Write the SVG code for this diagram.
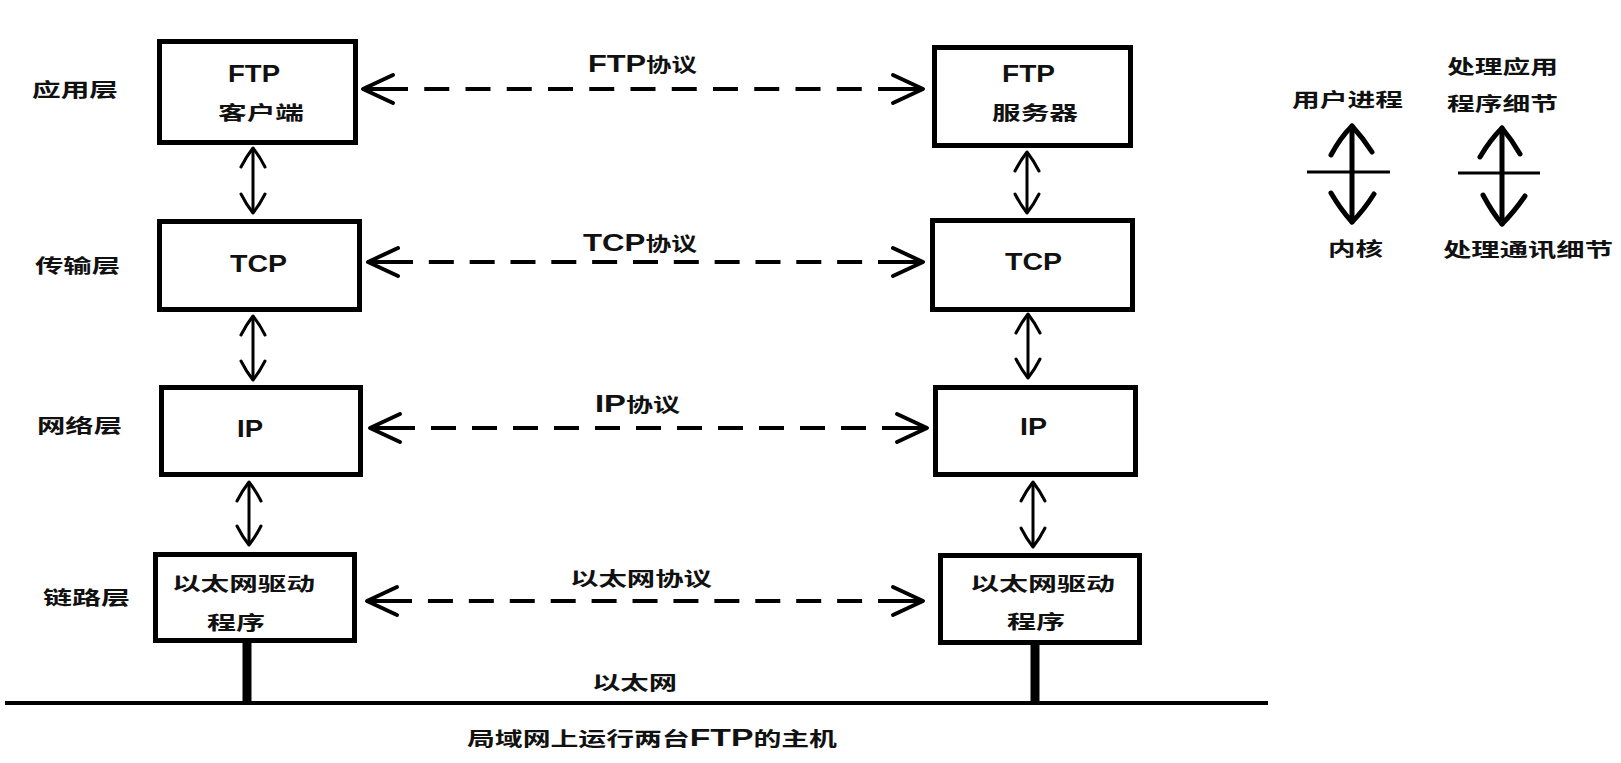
<svg xmlns="http://www.w3.org/2000/svg" width="1621" height="763" viewBox="0 0 1621 763">
<style>
text{font-family:"Liberation Sans","Noto Sans CJK SC",sans-serif;font-weight:bold;font-size:19px;fill:#111}
.lat{font-size:23px}
.box{fill:#fff;stroke:#000;stroke-width:5}
.shaft{fill:none;stroke:#000;stroke-width:4;marker-start:url(#oa);marker-end:url(#oa)}
.dash{fill:none;stroke:#000;stroke-width:4}
.v{fill:none;stroke:#000;stroke-width:3;marker-start:url(#va);marker-end:url(#va)}
.stem{stroke:#000;stroke-width:9}
.lg{fill:none;stroke:#000;stroke-width:5;stroke-linejoin:round;stroke-linecap:round}
.lh{stroke:#000;stroke-width:3}
</style>
<defs>
<marker id="oa" viewBox="-34 -17 37 34" refX="0" refY="0" markerWidth="37" markerHeight="34" markerUnits="userSpaceOnUse" orient="auto-start-reverse">
<path d="M-30 -14 L0 0 L-30 14" fill="none" stroke="#000" stroke-width="4" stroke-linecap="round" stroke-linejoin="round"/>
</marker>
<marker id="va" viewBox="-22 -15 25 30" refX="0" refY="0" markerWidth="25" markerHeight="30" markerUnits="userSpaceOnUse" orient="auto-start-reverse">
<path d="M-19 -12 Q-9 -7 0 0 Q-9 7 -19 12" fill="none" stroke="#000" stroke-width="3" stroke-linecap="round" stroke-linejoin="round"/>
</marker>
</defs>
<rect width="1621" height="763" fill="#fff"/>

<g id="layer-labels">
<text x="32" y="97" textLength="86" lengthAdjust="spacingAndGlyphs">应用层</text>
<text x="35" y="273" textLength="85" lengthAdjust="spacingAndGlyphs">传输层</text>
<text x="37" y="433" textLength="85" lengthAdjust="spacingAndGlyphs">网络层</text>
<text x="43" y="605" textLength="87" lengthAdjust="spacingAndGlyphs">链路层</text>
</g>

<g id="ftp-client">
<rect class="box" x="159.5" y="41.5" width="196" height="101"/>
<text class="lat" x="228" y="82" textLength="52" lengthAdjust="spacingAndGlyphs">FTP</text>
<text x="218" y="120" textLength="86" lengthAdjust="spacingAndGlyphs">客户端</text>
</g>
<g id="tcp-left">
<rect class="box" x="159.5" y="221.5" width="200" height="88"/>
<text class="lat" x="230" y="272" textLength="57" lengthAdjust="spacingAndGlyphs">TCP</text>
</g>
<g id="ip-left">
<rect class="box" x="161.5" y="387.5" width="199" height="87"/>
<text class="lat" x="237" y="437" textLength="26" lengthAdjust="spacingAndGlyphs">IP</text>
</g>
<g id="eth-left">
<rect class="box" x="155.5" y="554.5" width="199" height="86"/>
<text x="172" y="591" textLength="143" lengthAdjust="spacingAndGlyphs">以太网驱动</text>
<text x="207" y="630" textLength="58" lengthAdjust="spacingAndGlyphs">程序</text>
</g>

<g id="ftp-server">
<rect class="box" x="934.5" y="47.5" width="196" height="98"/>
<text class="lat" x="1002" y="82" textLength="53" lengthAdjust="spacingAndGlyphs">FTP</text>
<text x="992" y="120" textLength="86" lengthAdjust="spacingAndGlyphs">服务器</text>
</g>
<g id="tcp-right">
<rect class="box" x="932.5" y="220.5" width="200" height="89"/>
<text class="lat" x="1005" y="270" textLength="57" lengthAdjust="spacingAndGlyphs">TCP</text>
</g>
<g id="ip-right">
<rect class="box" x="935.5" y="387.5" width="200" height="87"/>
<text class="lat" x="1020" y="435" textLength="27" lengthAdjust="spacingAndGlyphs">IP</text>
</g>
<g id="eth-right">
<rect class="box" x="940.5" y="555.5" width="199" height="87"/>
<text x="970" y="591" textLength="145" lengthAdjust="spacingAndGlyphs">以太网驱动</text>
<text x="1007" y="629" textLength="58" lengthAdjust="spacingAndGlyphs">程序</text>
</g>

<g id="connectors">
<path class="shaft" d="M363 89 H408 M878 89 H923"/>
<path class="dash" stroke-dasharray="25 16.25" d="M424.25 89 H861.75"/>
<path class="shaft" d="M368 262 H413 M878 262 H923"/>
<path class="dash" stroke-dasharray="25 15.83" d="M428.83 262 H862.17"/>
<path class="shaft" d="M370 428 H415 M882 428 H927"/>
<path class="dash" stroke-dasharray="25 16" d="M431 428 H866"/>
<path class="shaft" d="M367 601 H412 M878 601 H923"/>
<path class="dash" stroke-dasharray="25 15.92" d="M427.92 601 H862.08"/>

<path class="v" d="M253 148 V213"/>
<path class="v" d="M253 316 V380"/>
<path class="v" d="M249 482 V545"/>
<path class="v" d="M1027 152 V213"/>
<path class="v" d="M1028 314 V378"/>
<path class="v" d="M1033 482 V547"/>

<line class="stem" x1="247" y1="643" x2="247" y2="703"/>
<line class="stem" x1="1035" y1="645" x2="1035" y2="703"/>
<line x1="5" y1="703" x2="1268" y2="703" stroke="#000" stroke-width="4"/>
</g>

<g id="protocol-labels">
<text x="588" y="72" textLength="109" lengthAdjust="spacingAndGlyphs"><tspan class="lat">FTP</tspan>协议</text>
<text x="583" y="251" textLength="114" lengthAdjust="spacingAndGlyphs"><tspan class="lat">TCP</tspan>协议</text>
<text x="595" y="412" textLength="85" lengthAdjust="spacingAndGlyphs"><tspan class="lat">IP</tspan>协议</text>
<text x="570" y="586" textLength="142" lengthAdjust="spacingAndGlyphs">以太网协议</text>
<text x="592" y="690" textLength="85" lengthAdjust="spacingAndGlyphs">以太网</text>
<text x="467" y="746" textLength="370" lengthAdjust="spacingAndGlyphs">局域网上运行两台<tspan class="lat">FTP</tspan>的主机</text>
</g>

<g id="legend-user">
<text x="1292" y="107" textLength="111" lengthAdjust="spacingAndGlyphs">用户进程</text>
<path class="lg" d="M1352 126 V222"/>
<path class="lg" d="M1331 155 Q1340 138 1352 126 Q1363 138 1372 152"/>
<path class="lg" d="M1331 193 Q1341 210 1352 222 Q1364 210 1374 194"/>
<line class="lh" x1="1307" y1="172" x2="1390" y2="172"/>
<text x="1328" y="256" textLength="55" lengthAdjust="spacingAndGlyphs">内核</text>
</g>
<g id="legend-app">
<text x="1447" y="74" textLength="111" lengthAdjust="spacingAndGlyphs">处理应用</text>
<text x="1447" y="111" textLength="111" lengthAdjust="spacingAndGlyphs">程序细节</text>
<path class="lg" d="M1502 128 V224"/>
<path class="lg" d="M1480 157 Q1490 140 1502 128 Q1512 140 1520 154"/>
<path class="lg" d="M1483 195 Q1492 212 1502 224 Q1514 212 1525 196"/>
<line class="lh" x1="1458" y1="173" x2="1540" y2="173"/>
<text x="1443" y="257" textLength="170" lengthAdjust="spacingAndGlyphs">处理通讯细节</text>
</g>
</svg>
